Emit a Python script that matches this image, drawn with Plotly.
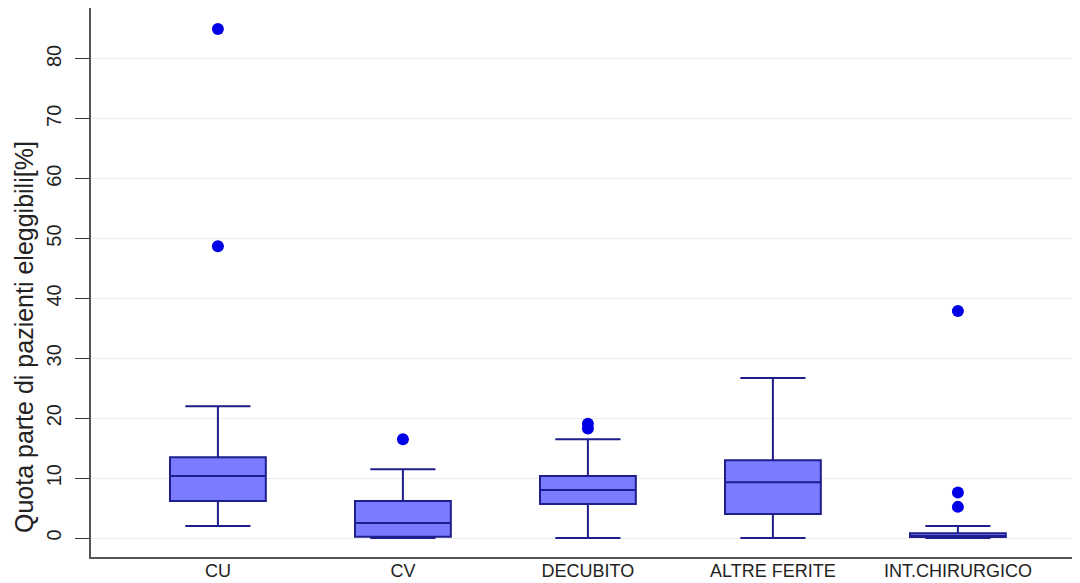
import plotly.graph_objects as go

categories = ["CU", "CV", "DECUBITO", "ALTRE FERITE", "INT.CHIRURGICO"]
lower_fence = [2.0, 0.0, 0.0, 0.0, 0.0]
q1 = [6.2, 0.2, 5.7, 4.0, 0.15]
median = [10.35, 2.5, 8.0, 9.3, 0.35]
q3 = [13.5, 6.2, 10.35, 13.0, 0.8]
upper_fence = [22.0, 11.5, 16.5, 26.7, 2.0]

outlier_cat = ["CU", "CU", "CV", "DECUBITO", "DECUBITO",
               "INT.CHIRURGICO", "INT.CHIRURGICO", "INT.CHIRURGICO"]
outlier_val = [85.0, 48.7, 16.5, 19.1, 18.3, 37.9, 7.6, 5.2]

y_title = "Quota parte di pazienti eleggibili[%]"
y_ticks = [0, 10, 20, 30, 40, 50, 60, 70, 80]

FONT = "Liberation Sans, Arial, sans-serif"

fig = go.Figure()
fig.add_trace(go.Box(
    x=categories,
    q1=q1, median=median, q3=q3,
    lowerfence=lower_fence, upperfence=upper_fence,
    fillcolor="#7B7BFF",
    line=dict(color="#1E1E8C", width=2),
    whiskerwidth=0.68,
    boxpoints=False,
    showlegend=False,
))
fig.add_trace(go.Scatter(
    x=outlier_cat, y=outlier_val,
    mode="markers",
    marker=dict(color="#0000E6", size=12, line=dict(width=0)),
    showlegend=False,
))

fig.update_layout(
    width=1072, height=575,
    margin=dict(l=83, r=0, t=0, b=26, autoexpand=False),
    paper_bgcolor="white", plot_bgcolor="white",
    boxgap=0.26,
    font=dict(family=FONT, color="#222222"),
    xaxis=dict(
        type="category",
        categoryorder="array", categoryarray=categories,
        range=[-0.686, 4.66],
        showline=True, linecolor="#555555", linewidth=1.5,
        showgrid=False, zeroline=False,
        ticks="", tickfont=dict(size=18, family=FONT, color="#222222"),
        ticklabelstandoff=-3,
        automargin=False,
    ),
    yaxis=dict(
        range=[-3.17, 88.5],
        tickmode="array", tickvals=y_ticks,
        ticktext=[str(v) for v in y_ticks],
        tickangle=-90,
        ticks="outside", ticklen=14, tickwidth=1, tickcolor="#333333",
        tickfont=dict(size=20, family=FONT, color="#222222"),
        ticklabelstandoff=6,
        showline=True, linecolor="#555555", linewidth=1.5,
        showgrid=True, gridcolor="#ECECEC", gridwidth=1,
        zeroline=False,
        automargin=False,
    ),
    annotations=[dict(
        text=y_title, textangle=-90,
        xref="paper", yref="paper",
        x=-0.0677, y=0.4007, xanchor="center", yanchor="middle",
        showarrow=False,
        font=dict(size=25, family=FONT, color="#222222"),
    )],
)

fig.write_html("out.html")
